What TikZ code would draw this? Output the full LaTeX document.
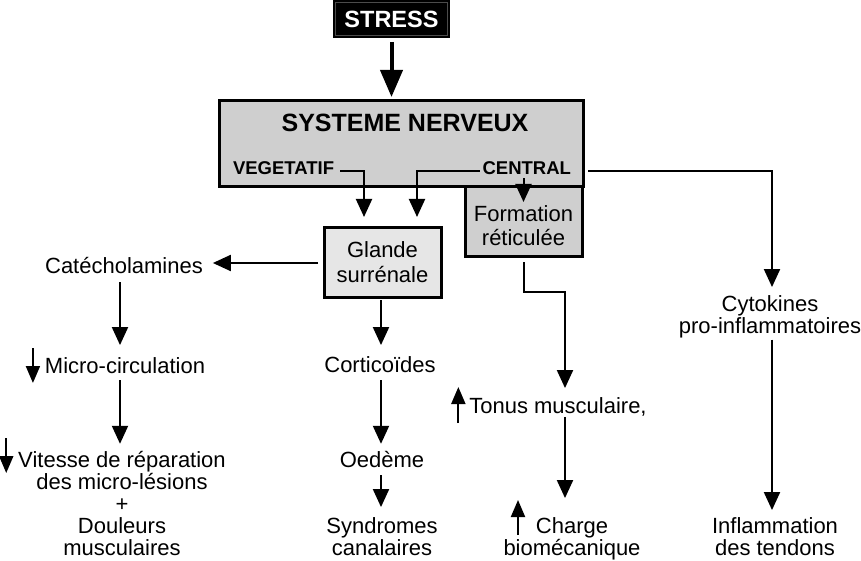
\documentclass[tikz,border=0pt]{standalone}
\usepackage{fontspec}
\setmainfont{Liberation Sans}
\usetikzlibrary{arrows.meta,calc}
\definecolor{boxgray}{HTML}{CFCFCF}
\definecolor{lightbox}{HTML}{E6E6E6}
\begin{document}
\begin{tikzpicture}[x=1pt,y=-1pt,
  txt/.style={inner sep=0pt, outer sep=0pt, font=\fontsize{22}{22}\selectfont, align=center},
  boxnode/.style={draw=black, line width=3pt, inner sep=0pt, outer sep=0pt, align=center,
     font=\fontsize{22}{24}\selectfont, minimum width=117pt, minimum height=69pt},
  capsbold/.style={inner sep=0pt, outer sep=0pt, font=\fontsize{18.5}{20}\selectfont\bfseries},
  arr/.style={line width=2pt, -{Triangle[length=18pt,width=16pt]}},
  bigarr/.style={line width=4pt, -{Triangle[length=27pt,width=22pt]}},
  glyph/.style={line width=2pt, -{Triangle[length=17pt,width=14pt]}}]
\useasboundingbox (0,0) rectangle (861,561);

% boxes
\node[fill=black, draw=none, inner sep=0pt, outer sep=0pt, minimum width=117pt, minimum height=38pt,
      text=white, font=\fontsize{23.5}{24}\selectfont\bfseries] (stress) at (391.5,19) {STRESS};
\draw[gray!60!black, line width=1pt] ($(stress.south west)+(2.5,-2.5)$) rectangle ($(stress.north east)+(-2.5,2.5)$);

\node[draw=black, fill=boxgray, line width=3pt, inner sep=0pt, outer sep=0pt,
      minimum width=364pt, minimum height=86pt] (sn) at (401,144) {};
\node[inner sep=0pt, outer sep=0pt, font=\fontsize{25}{26}\selectfont\bfseries, anchor=base] (snt) at (405,132) {SYSTEME NERVEUX};
\node[capsbold, anchor=base west] (veg) at (233,175) {VEGETATIF};
\node[capsbold, anchor=base east] (cen) at (571,175) {CENTRAL};

\node[boxnode, fill=boxgray] (fr) at (523.5,221.5) {\rule{0pt}{24pt}Formation\\réticulée};
\node[boxnode, fill=lightbox, font=\fontsize{22}{25}\selectfont] (gl) at (382.5,262.5) {Glande\\surrénale};

% texts (anchor base = baseline of the last line)
\node[txt, anchor=base] (cat) at (124,273) {Catécholamines};
\node[txt, anchor=base] (mic) at (125,373) {Micro-circulation};
\node[txt, anchor=base] (vit) at (122,555) {Vitesse de réparation\\des micro-lésions\\+\\Douleurs\\musculaires};
\node[txt, anchor=base] (cort) at (380,372) {Corticoïdes};
\node[txt, anchor=base] (oed) at (382,467) {Oedème};
\node[txt, anchor=base] (syn) at (382,555) {Syndromes\\canalaires};
\node[txt, anchor=base] (ton) at (558,413) {Tonus musculaire,};
\node[txt, anchor=base] (ch) at (572,555) {Charge\\biomécanique};
\node[txt, anchor=base] (cyt) at (770,333) {Cytokines\\pro-inflammatoires};
\node[txt, anchor=base] (inf) at (775,555) {Inflammation\\des tendons};

% helper coordinates
\coordinate (colA) at (120,0);
\coordinate (colB) at (381,0);
\coordinate (colC) at (565,0);
\coordinate (colD) at (772,0);
\coordinate (vy) at (0,171);
\coordinate (hy) at (0,263);
\coordinate (ry) at (0,292);
\coordinate (xv) at (364,0);
\coordinate (xc) at (417,0);

% connectors
\draw[bigarr] ($(stress.south)+(0,4)$) -- ($(stress.south |- sn.north)+(0,-4)$);
\draw[arr] ($(veg.east |- vy)+(6,0)$) -| ($(gl.north -| xv)+(0,-11)$);
\draw[arr] ($(cen.west |- vy)+(-3,0)$) -| ($(gl.north -| xc)+(0,-11)$);
\draw[arr] ($(cen.south -| fr.north)+(0,3)$) -- ($(fr.north)+(0,15)$);
\draw[arr] ($(sn.east |- vy)+(5,0)$) -| ($(cyt.north -| colD)+(0,-8)$);
\draw[arr] ($(gl.west |- hy)+(-6,0)$) -- ($(cat.east |- hy)+(10,0)$);
\draw[arr] ($(cat.south -| colA)+(0,9)$) -- ($(mic.north -| colA)+(0,-12)$);
\draw[arr] ($(mic.south -| colA)+(0,7)$) -- ($(vit.north -| colA)+(0,-7)$);
\draw[arr] ($(gl.south -| colB)+(0,3)$) -- ($(cort.north -| colB)+(0,-11)$);
\draw[arr] ($(cort.south -| colB)+(0,8)$) -- ($(oed.north -| colB)+(0,-7)$);
\draw[arr] ($(oed.south -| colB)+(0,8)$) -- ($(syn.north -| colB)+(0,-10)$);
\draw[arr] ($(fr.south)+(0,6)$) -- (fr.south |- ry) -- (ry -| colC) -- ($(ton.north -| colC)+(0,-9)$);
\draw[arr] ($(ton.south -| colC)+(0,1)$) -- ($(ch.north -| colC)+(0,-19)$);
\draw[arr] ($(cyt.south -| colD)+(0,2)$) -- ($(inf.north -| colD)+(0,-7)$);

% up / down marks
\draw[glyph] ($(mic.base west)+(-12,-25)$) -- ($(mic.base west)+(-12,10)$);
\draw[glyph] ($(vit.base west)+(-12,-117)$) -- ($(vit.base west)+(-12,-82)$);
\draw[glyph] ($(ton.base west)+(-11,10)$) -- ($(ton.base west)+(-11,-26)$);
\draw[glyph] ($(ch.base)+(-54,-20)$) -- ($(ch.base)+(-54,-55)$);
\end{tikzpicture}
\end{document}
